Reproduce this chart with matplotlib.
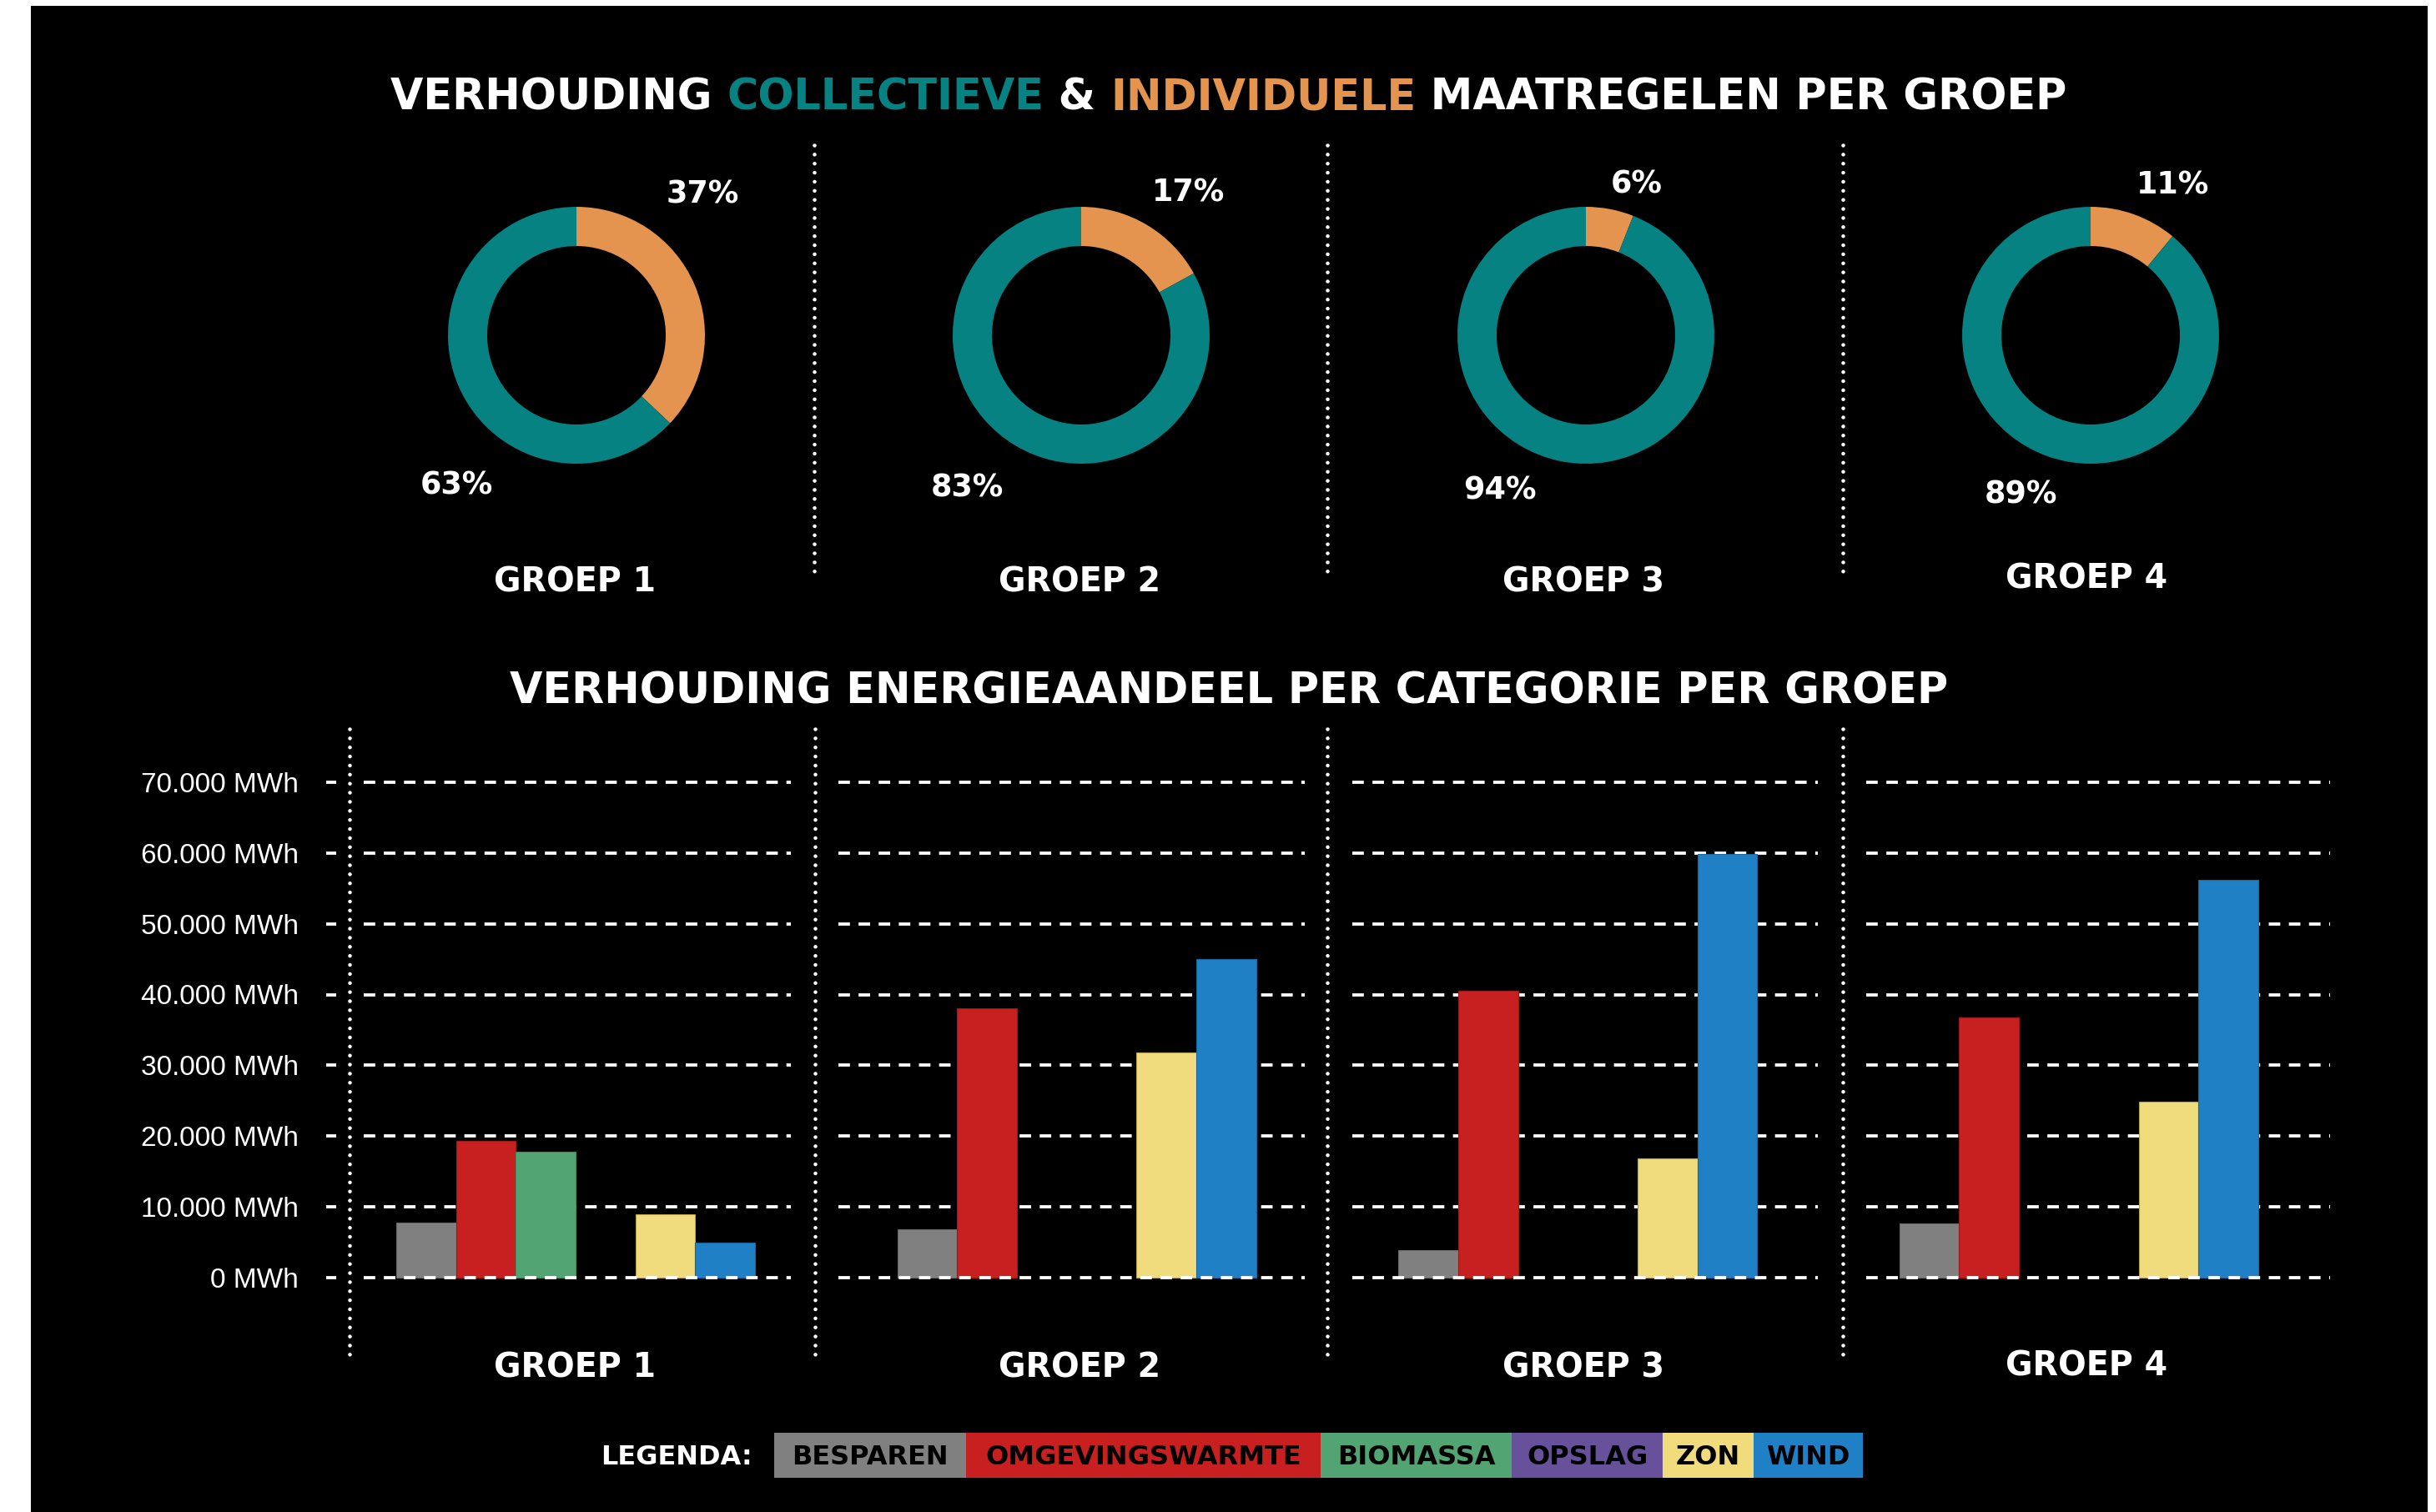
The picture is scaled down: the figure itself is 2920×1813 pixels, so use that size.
import matplotlib
matplotlib.use("Agg")
import matplotlib.pyplot as plt
from matplotlib.patches import Rectangle
from matplotlib.lines import Line2D
from matplotlib.ticker import FuncFormatter
from matplotlib.font_manager import FontProperties
import numpy as np

plt.rcParams['font.family'] = ['Liberation Sans', 'DejaVu Sans']
BOLD = ['DejaVu Sans']

# ---------------- data ----------------
groups = ["GROEP 1", "GROEP 2", "GROEP 3", "GROEP 4"]
collectief = [63, 83, 94, 89]
individueel = [37, 17, 6, 11]

categories = ["BESPAREN", "OMGEVINGSWARMTE", "BIOMASSA", "OPSLAG", "ZON", "WIND"]
besparen = [7800, 6900, 3900, 7700]
omgevingswarmte = [19300, 38000, 40500, 36800]
biomassa = [17800, 0, 0, 0]
opslag = [0, 0, 0, 0]
zon = [9000, 31800, 16800, 24900]
wind = [5000, 45000, 59900, 56200]
series = [besparen, omgevingswarmte, biomassa, opslag, zon, wind]

y_ticks = [0, 10000, 20000, 30000, 40000, 50000, 60000, 70000]

title_top = ["VERHOUDING ", "COLLECTIEVE", " & ", "INDIVIDUELE", " MAATREGELEN PER GROEP"]
title_bottom = "VERHOUDING ENERGIEAANDEEL PER CATEGORIE PER GROEP"
legend_title = "LEGENDA:"

# ---------------- styles ----------------
TEAL = "#068282"
ORANGE = "#E4944F"
cat_colors = ["#808080", "#C82020", "#52A572", "#67519B", "#F0DC7D", "#2080C6"]
cat_edges = ["#6a6a6a", "#9e1818", "#3f8a5c", "#4f3d7d", "#b5a24e", "#1a66a0"]
title_colors = ["white", TEAL, "white", ORANGE, "white"]

# ---------------- layout (pixels) ----------------
W, H = 2920, 1813
fig = plt.figure(figsize=(W / 100, H / 100), dpi=100)
fig.patch.set_facecolor("white")


def fx(px):
    return px / W


def fy(py):
    return 1 - py / H


# background
bg = fig.add_axes([0, 0, 1, 1], zorder=-10)
bg.set_xlim(0, W)
bg.set_ylim(H, 0)
bg.axis("off")
bg.add_patch(Rectangle((37, 7), 2910 - 37, H - 7, facecolor="black", edgecolor="none"))

# overlay for text / separators
ov = fig.add_axes([0, 0, 1, 1], zorder=10)
ov.set_xlim(0, W)
ov.set_ylim(H, 0)
ov.axis("off")
ov.patch.set_alpha(0)

renderer = fig.canvas.get_renderer()


def text_w(s, size, weight="bold"):
    fp = FontProperties(family=BOLD, weight=weight, size=size)
    w, h, d = renderer.get_text_width_height_descent(s, fp, ismath=False)
    return w


def btext(x, y, s, size, color="white", ha="center"):
    ov.text(x, y, s, color=color, fontsize=size, fontweight="bold", family=BOLD,
            ha=ha, va="baseline")


# ---------------- top title ----------------
TITLE_SIZE = 36.6
total = sum(text_w(s, TITLE_SIZE) for s in title_top)
x = 1473 - total / 2
for s, c in zip(title_top, title_colors):
    btext(x, 132, s, TITLE_SIZE, color=c, ha="left")
    x += text_w(s, TITLE_SIZE)

# ---------------- donuts ----------------
DONUT_CX = [691, 1296, 1901, 2506]
DONUT_CY = 402
R_OUT = 154
RING = 47
LABEL_OFF = [((151, -172), (-144, 177)),
             ((128.6, -174), (-137, 179.7)),
             ((60.6, -184), (-103, 182.4)),
             ((99, -182.8), (-84, 187.7))]
PCT_SIZE = 26.3

for i, cx in enumerate(DONUT_CX):
    a = fig.add_axes([fx(cx - R_OUT), fy(DONUT_CY + R_OUT), 2 * R_OUT / W, 2 * R_OUT / H])
    a.pie([individueel[i], collectief[i]], colors=[ORANGE, TEAL], startangle=90,
          counterclock=False, radius=1,
          wedgeprops=dict(width=RING / R_OUT, linewidth=0))
    a.set_xlim(-1, 1)
    a.set_ylim(-1, 1)
    a.set_aspect("equal")
    a.axis("off")
    (dx1, dy1), (dx2, dy2) = LABEL_OFF[i]
    btext(cx + dx1, DONUT_CY + dy1 + 13.75, f"{individueel[i]}%", PCT_SIZE)
    btext(cx + dx2, DONUT_CY + dy2 + 13.75, f"{collectief[i]}%", PCT_SIZE)

GROUP_LABEL_X = [689, 1294, 1898, 2501]
TOP_BASE = [709.5, 709.5, 709.5, 706]
BOT_BASE = [1651, 1651, 1651, 1649]
GROUP_SIZE = 28.5
for i, g in enumerate(groups):
    btext(GROUP_LABEL_X[i], TOP_BASE[i], g, GROUP_SIZE)
    btext(GROUP_LABEL_X[i], BOT_BASE[i], g, GROUP_SIZE)


def dotted(xp, y0, y1):
    ov.add_line(Line2D([xp, xp], [y0, y1], color="white", lw=3.3,
                       linestyle=(0, (0.001, 2.37)), dash_capstyle="round"))


for xp in [976, 1591, 2209]:
    dotted(xp, 174, 690)
for xp in [419, 977, 1591, 2209]:
    dotted(xp, 874, 1631)

# ---------------- bottom title ----------------
btext(1473.5, 844, title_bottom, 36.6)

# ---------------- bar chart ----------------
AX_L, AX_R, AX_T, AX_B = 402.5, 2800, 874, 1631
G0, GP, SLOT = 690, 600.6, 71.7
ZERO_PY, PX_10K = 1532.1, 84.9

ax = fig.add_axes([fx(AX_L), fy(AX_B), (AX_R - AX_L) / W, (AX_B - AX_T) / H])
ax.patch.set_visible(False)
ax.set_xlim((AX_L - G0) / GP, (AX_R - G0) / GP)
ax.set_ylim((ZERO_PY - AX_B) / PX_10K * 1e4, (ZERO_PY - AX_T) / PX_10K * 1e4)

w = SLOT / GP
xg = np.arange(len(groups))
for j, vals in enumerate(series):
    lws = [0.8 if v > 0 else 0 for v in vals]
    ax.bar(xg + (j - 2.5) * w, vals, width=w, color=cat_colors[j],
           edgecolor=cat_edges[j], linewidth=lws, zorder=2)

GRID_SEGS = [(436, 948), (1005, 1564), (1621, 2179), (2237, 2793)]
for yv in y_ticks:
    for a0, a1 in GRID_SEGS:
        ax.plot([(a0 - G0) / GP, (a1 - G0) / GP], [yv, yv], color="white", lw=2.74,
                linestyle=(0, (3.63, 2.71)), dash_capstyle="butt",
                zorder=3 if yv == 0 else 1, clip_on=False)

ax.set_xticks([])
ax.set_yticks(y_ticks)
ax.yaxis.set_major_formatter(FuncFormatter(lambda v, p: f"{int(round(v)):,} MWh".replace(",", ".")))
ax.tick_params(axis="y", colors="white", length=9, width=2.74, pad=23, labelsize=24,
               direction="out")
for s in ax.spines.values():
    s.set_visible(False)

# ---------------- legend ----------------
LEG_SIZE = 23
btext(902, 1756, legend_title, LEG_SIZE, ha="right")
LEG_EDGES = [928, 1158, 1583, 1812, 1993, 2102, 2233]
for j, cat in enumerate(categories):
    x0, x1 = LEG_EDGES[j], LEG_EDGES[j + 1]
    ov.add_patch(Rectangle((x0, 1718), x1 - x0, 54, facecolor=cat_colors[j],
                           edgecolor="none"))
    btext((x0 + x1) / 2, 1756, cat, LEG_SIZE, color="black")

fig.savefig("out.png", dpi=100, facecolor=fig.get_facecolor())
